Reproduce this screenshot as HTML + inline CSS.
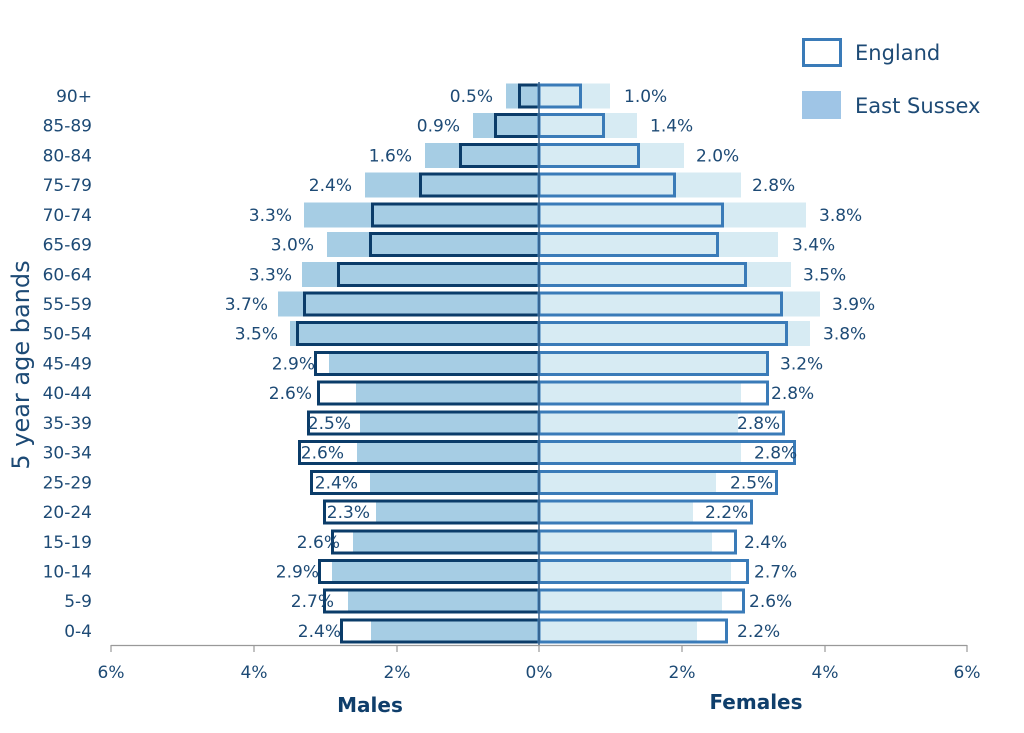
<!DOCTYPE html>
<html><head><meta charset="utf-8"><style>
html,body{margin:0;padding:0;background:#fff;}
svg{display:block;font-family:"DejaVu Sans","Liberation Sans",sans-serif;}
.m{fill:#a6cde4}.f{fill:#d7ebf3}
.em{fill:none;stroke:#0b3c69;stroke-width:3}
.ef{fill:none;stroke:#3a7bb8;stroke-width:3}
text{fill:#1d4a75;font-size:17px}
.r{text-anchor:end}
</style></head><body>
<svg width="1024" height="733" viewBox="0 0 1024 733">
<g transform="translate(0,83.5)"><rect class="m" x="506" y="0" width="33" height="25"/><rect class="f" x="539" y="0" width="71" height="25"/><rect class="em" x="519.5" y="1.5" width="19.5" height="22"/><rect class="ef" x="539" y="1.5" width="41.5" height="22"/><text class="r" x="493" y="18.5">0.5%</text><text x="624" y="18.5">1.0%</text><text class="r" x="92" y="18.5">90+</text></g>
<g transform="translate(0,113)"><rect class="m" x="473" y="0" width="66" height="25"/><rect class="f" x="539" y="0" width="98" height="25"/><rect class="em" x="495.5" y="1.5" width="43.5" height="22"/><rect class="ef" x="539" y="1.5" width="64.5" height="22"/><text class="r" x="460" y="18.5">0.9%</text><text x="650" y="18.5">1.4%</text><text class="r" x="92" y="18.5">85-89</text></g>
<g transform="translate(0,143)"><rect class="m" x="425" y="0" width="114" height="25"/><rect class="f" x="539" y="0" width="145" height="25"/><rect class="em" x="460.5" y="1.5" width="78.5" height="22"/><rect class="ef" x="539" y="1.5" width="99.5" height="22"/><text class="r" x="412" y="18.5">1.6%</text><text x="696" y="18.5">2.0%</text><text class="r" x="92" y="18.5">80-84</text></g>
<g transform="translate(0,172.5)"><rect class="m" x="365" y="0" width="174" height="25"/><rect class="f" x="539" y="0" width="202" height="25"/><rect class="em" x="420.5" y="1.5" width="118.5" height="22"/><rect class="ef" x="539" y="1.5" width="135.5" height="22"/><text class="r" x="352" y="18.5">2.4%</text><text x="752" y="18.5">2.8%</text><text class="r" x="92" y="18.5">75-79</text></g>
<g transform="translate(0,202.5)"><rect class="m" x="304" y="0" width="235" height="25"/><rect class="f" x="539" y="0" width="267" height="25"/><rect class="em" x="372.5" y="1.5" width="166.5" height="22"/><rect class="ef" x="539" y="1.5" width="183.5" height="22"/><text class="r" x="292" y="18.5">3.3%</text><text x="819" y="18.5">3.8%</text><text class="r" x="92" y="18.5">70-74</text></g>
<g transform="translate(0,232)"><rect class="m" x="327" y="0" width="212" height="25"/><rect class="f" x="539" y="0" width="239" height="25"/><rect class="em" x="370.5" y="1.5" width="168.5" height="22"/><rect class="ef" x="539" y="1.5" width="178.5" height="22"/><text class="r" x="314" y="18.5">3.0%</text><text x="792" y="18.5">3.4%</text><text class="r" x="92" y="18.5">65-69</text></g>
<g transform="translate(0,262)"><rect class="m" x="302" y="0" width="237" height="25"/><rect class="f" x="539" y="0" width="252" height="25"/><rect class="em" x="338.5" y="1.5" width="200.5" height="22"/><rect class="ef" x="539" y="1.5" width="206.5" height="22"/><text class="r" x="292" y="18.5">3.3%</text><text x="803" y="18.5">3.5%</text><text class="r" x="92" y="18.5">60-64</text></g>
<g transform="translate(0,291.5)"><rect class="m" x="278" y="0" width="261" height="25"/><rect class="f" x="539" y="0" width="281" height="25"/><rect class="em" x="304.5" y="1.5" width="234.5" height="22"/><rect class="ef" x="539" y="1.5" width="242.5" height="22"/><text class="r" x="268" y="18.5">3.7%</text><text x="832" y="18.5">3.9%</text><text class="r" x="92" y="18.5">55-59</text></g>
<g transform="translate(0,321)"><rect class="m" x="290" y="0" width="249" height="25"/><rect class="f" x="539" y="0" width="271" height="25"/><rect class="em" x="297.5" y="1.5" width="241.5" height="22"/><rect class="ef" x="539" y="1.5" width="247.5" height="22"/><text class="r" x="278" y="18.5">3.5%</text><text x="823" y="18.5">3.8%</text><text class="r" x="92" y="18.5">50-54</text></g>
<g transform="translate(0,351)"><rect class="m" x="329" y="0" width="210" height="25"/><rect class="f" x="539" y="0" width="228" height="25"/><rect class="em" x="315.5" y="1.5" width="223.5" height="22"/><rect class="ef" x="539" y="1.5" width="228.5" height="22"/><text class="r" x="315" y="18.5">2.9%</text><text x="780" y="18.5">3.2%</text><text class="r" x="92" y="18.5">45-49</text></g>
<g transform="translate(0,380.5)"><rect class="m" x="356" y="0" width="183" height="25"/><rect class="f" x="539" y="0" width="202" height="25"/><rect class="em" x="318.5" y="1.5" width="220.5" height="22"/><rect class="ef" x="539" y="1.5" width="228.5" height="22"/><text class="r" x="312" y="18.5">2.6%</text><text x="771" y="18.5">2.8%</text><text class="r" x="92" y="18.5">40-44</text></g>
<g transform="translate(0,410.5)"><rect class="m" x="360" y="0" width="179" height="25"/><rect class="f" x="539" y="0" width="199" height="25"/><rect class="em" x="308.5" y="1.5" width="230.5" height="22"/><rect class="ef" x="539" y="1.5" width="244.5" height="22"/><text class="r" x="351" y="18.5">2.5%</text><text x="737" y="18.5">2.8%</text><text class="r" x="92" y="18.5">35-39</text></g>
<g transform="translate(0,440)"><rect class="m" x="357" y="0" width="182" height="25"/><rect class="f" x="539" y="0" width="202" height="25"/><rect class="em" x="299.5" y="1.5" width="239.5" height="22"/><rect class="ef" x="539" y="1.5" width="255.5" height="22"/><text class="r" x="344" y="18.5">2.6%</text><text x="754" y="18.5">2.8%</text><text class="r" x="92" y="18.5">30-34</text></g>
<g transform="translate(0,470)"><rect class="m" x="370" y="0" width="169" height="25"/><rect class="f" x="539" y="0" width="177" height="25"/><rect class="em" x="311.5" y="1.5" width="227.5" height="22"/><rect class="ef" x="539" y="1.5" width="237.5" height="22"/><text class="r" x="358" y="18.5">2.4%</text><text x="730" y="18.5">2.5%</text><text class="r" x="92" y="18.5">25-29</text></g>
<g transform="translate(0,499.5)"><rect class="m" x="376" y="0" width="163" height="25"/><rect class="f" x="539" y="0" width="154" height="25"/><rect class="em" x="324.5" y="1.5" width="214.5" height="22"/><rect class="ef" x="539" y="1.5" width="212.5" height="22"/><text class="r" x="370" y="18.5">2.3%</text><text x="705" y="18.5">2.2%</text><text class="r" x="92" y="18.5">20-24</text></g>
<g transform="translate(0,529.5)"><rect class="m" x="353" y="0" width="186" height="25"/><rect class="f" x="539" y="0" width="173" height="25"/><rect class="em" x="332.5" y="1.5" width="206.5" height="22"/><rect class="ef" x="539" y="1.5" width="196.5" height="22"/><text class="r" x="340" y="18.5">2.6%</text><text x="744" y="18.5">2.4%</text><text class="r" x="92" y="18.5">15-19</text></g>
<g transform="translate(0,559)"><rect class="m" x="332" y="0" width="207" height="25"/><rect class="f" x="539" y="0" width="192" height="25"/><rect class="em" x="319.5" y="1.5" width="219.5" height="22"/><rect class="ef" x="539" y="1.5" width="208.5" height="22"/><text class="r" x="319" y="18.5">2.9%</text><text x="754" y="18.5">2.7%</text><text class="r" x="92" y="18.5">10-14</text></g>
<g transform="translate(0,588.5)"><rect class="m" x="348" y="0" width="191" height="25"/><rect class="f" x="539" y="0" width="183" height="25"/><rect class="em" x="324.5" y="1.5" width="214.5" height="22"/><rect class="ef" x="539" y="1.5" width="204.5" height="22"/><text class="r" x="334" y="18.5">2.7%</text><text x="749" y="18.5">2.6%</text><text class="r" x="92" y="18.5">5-9</text></g>
<g transform="translate(0,618.5)"><rect class="m" x="371" y="0" width="168" height="25"/><rect class="f" x="539" y="0" width="158" height="25"/><rect class="em" x="341.5" y="1.5" width="197.5" height="22"/><rect class="ef" x="539" y="1.5" width="187.5" height="22"/><text class="r" x="341" y="18.5">2.4%</text><text x="737" y="18.5">2.2%</text><text class="r" x="92" y="18.5">0-4</text></g>
<line x1="539" y1="82" x2="539" y2="646" stroke="#345f88" stroke-width="1.5"/>
<g stroke="#999" stroke-width="1.2">
<line x1="111" y1="645.5" x2="967" y2="645.5"/>
<line x1="111" y1="645" x2="111" y2="652"/><line x1="254" y1="645" x2="254" y2="652"/><line x1="397" y1="645" x2="397" y2="652"/><line x1="539" y1="645" x2="539" y2="652"/><line x1="682" y1="645" x2="682" y2="652"/><line x1="825" y1="645" x2="825" y2="652"/><line x1="967" y1="645" x2="967" y2="652"/>
</g>
<g text-anchor="middle">
<text x="111" y="678">6%</text><text x="254" y="678">4%</text><text x="397" y="678">2%</text><text x="539" y="678">0%</text><text x="682" y="678">2%</text><text x="825" y="678">4%</text><text x="967" y="678">6%</text>
<text x="370" y="712" style="font-size:20px;font-weight:bold;fill:#0f3e6b">Males</text>
<text x="756" y="709" style="font-size:20px;font-weight:bold;fill:#0f3e6b">Females</text>
<text transform="translate(29,365) rotate(-90)" style="font-size:24px">5 year age bands</text>
</g>
<rect x="803.5" y="39.5" width="37" height="26" fill="#fff" stroke="#3a7bb8" stroke-width="3"/>
<text x="855" y="60" style="font-size:21px">England</text>
<rect x="802" y="91" width="39" height="28" fill="#9fc5e6"/>
<text x="855" y="113" style="font-size:21px">East Sussex</text>
</svg>
</body></html>
